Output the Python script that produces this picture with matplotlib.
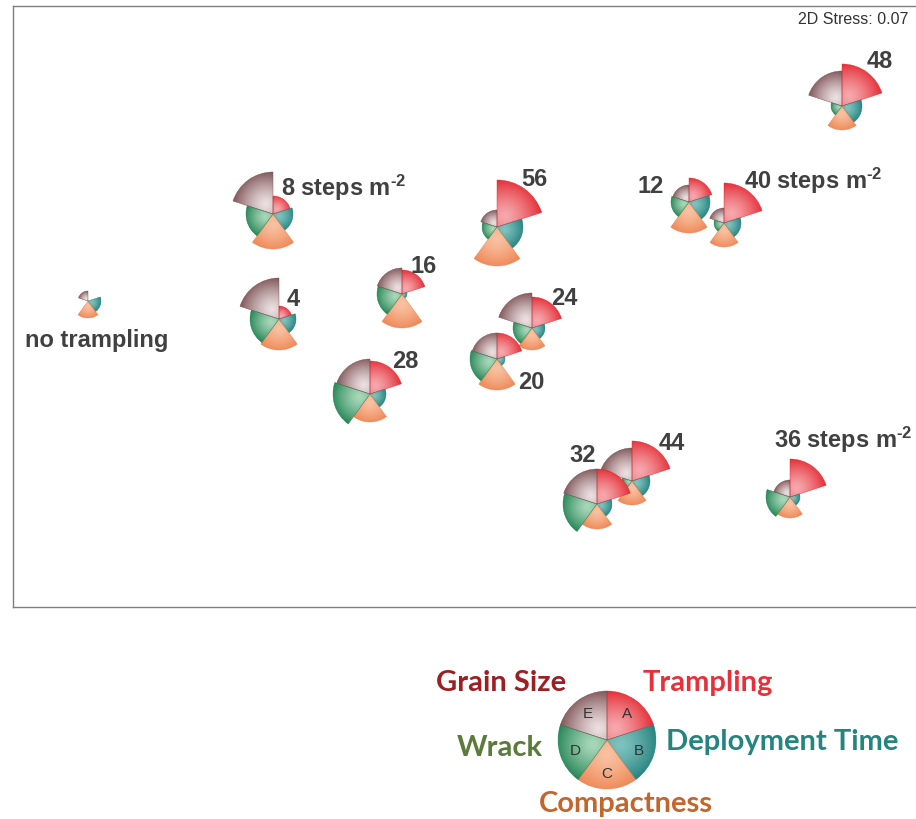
import numpy as np
import matplotlib
matplotlib.use("Agg")
import matplotlib.pyplot as plt
from matplotlib.patches import Wedge
from matplotlib.colors import to_rgb

plt.rcParams['mathtext.fontset'] = 'custom'
plt.rcParams['mathtext.rm'] = 'Liberation Sans:bold'
plt.rcParams['mathtext.bf'] = 'Liberation Sans:bold'
plt.rcParams['mathtext.it'] = 'Liberation Sans:bold'

# nMDS ordination: one glyph per trampling level
labels = ['no trampling', '4', '8 steps m$^{\u20102}$', '16', '28', '56', '24', '20',
          '12', '40 steps m$^{\u20102}$', '48', '44', '32', '36 steps m$^{\u20102}$']
mds1 = [0.75, 2.66, 2.60, 3.89, 3.57, 4.84, 5.19, 4.84, 6.76, 7.11, 8.29, 6.19, 5.84, 7.77]
mds2 = [3.06, 2.88, 3.93, 3.13, 2.13, 3.80, 2.79, 2.48, 4.05, 3.84, 5.01, 1.26, 1.03, 1.10]

# wedge sizes (relative, 1 = full radius) for variables A..E
trampling  = [0.00, 0.26, 0.36, 0.48, 0.66, 0.94, 0.62, 0.52, 0.48, 0.80, 0.84, 0.80, 0.70, 0.76]
deployment = [0.26, 0.34, 0.40, 0.10, 0.32, 0.52, 0.26, 0.16, 0.42, 0.34, 0.40, 0.36, 0.30, 0.20]
compact    = [0.34, 0.62, 0.70, 0.68, 0.56, 0.78, 0.44, 0.62, 0.62, 0.48, 0.48, 0.48, 0.50, 0.42]
wrack      = [0.00, 0.58, 0.54, 0.50, 0.74, 0.30, 0.38, 0.54, 0.36, 0.20, 0.22, 0.20, 0.68, 0.48]
grain      = [0.20, 0.82, 0.84, 0.52, 0.70, 0.34, 0.70, 0.52, 0.34, 0.30, 0.70, 0.66, 0.70, 0.34]

var_names = ['Trampling', 'Deployment Time', 'Compactness', 'Wrack', 'Grain Size']
var_letters = ['A', 'B', 'C', 'D', 'E']
stress = 0.07

# label offsets in pixels (dx right, dy down) and alignment
label_off = [(9, 45, 'center'), (14, -14, 'center'), (8, -19, 'left'), (22, -22, 'center'),
             (35, -27, 'center'), (37, -42, 'center'), (32, -24, 'center'), (34, 29, 'center'),
             (-38, -10, 'center'), (20, -35, 'left'), (38, -39, 'center'), (40, -32, 'center'),
             (-14, -43, 'center'), (-16, -50, 'left')]

# wedge styling
angles = [(18, 90), (-54, 18), (-126, -54), (162, 234), (90, 162)]
rim = ['#e3222b', '#1b7b77', '#ee804c', '#167c4a', '#76494c']
light = ['#f6a9ae', '#7fc3bf', '#f8c2a2', '#a9d8ba', '#ece0e1']
text_cols = ['#e8303a', '#24847f', '#c4652b', '#5b7b3a', '#9c1f24']
R = 0.5  # full radius in plot units


def gradient_wedge(ax, cx, cy, r, t1, t2, base, hl, z):
    if r <= 0:
        return
    w = Wedge((cx, cy), r, t1, t2, facecolor='none', edgecolor=base, lw=0.3, zorder=z + 0.1)
    ax.add_patch(w)
    n = 60
    xs = np.linspace(cx - r, cx + r, n)
    ys = np.linspace(cy - r, cy + r, n)
    X, Y = np.meshgrid(xs, ys)
    mid = np.deg2rad((t1 + t2) / 2)
    hx = cx + 0.3 * r * np.cos(mid)
    hy = cy + 0.3 * r * np.sin(mid)
    t = np.clip(np.hypot(X - hx, Y - hy) / (0.85 * r), 0, 1) ** 1.3
    b = np.array(to_rgb(base))
    h = np.array(to_rgb(hl))
    img = h[None, None, :] * (1 - t[..., None]) + b[None, None, :] * t[..., None]
    im = ax.imshow(img, extent=(cx - r, cx + r, cy - r, cy + r), origin='lower',
                   interpolation='bilinear', zorder=z)
    im.set_clip_path(w)


fig = plt.figure(figsize=(9.16, 8.2), dpi=100)

# main ordination panel
ax = fig.add_axes([13 / 916, 212 / 820, 927 / 916, 601 / 820])
values = list(zip(trampling, deployment, compact, wrack, grain))
for i, (x, y) in enumerate(zip(mds1, mds2)):
    for k in range(5):
        gradient_wedge(ax, x, y, values[i][k] * R, angles[k][0], angles[k][1],
                       rim[k], light[k], 2 + i)
    dx, dy, ha = label_off[i]
    ax.annotate(labels[i], (x, y), xytext=(dx * 0.72, -dy * 0.72), textcoords='offset points',
                ha=ha, va='baseline', fontsize=17, fontweight='bold',
                family='Liberation Sans', color='#404040', zorder=40)

ax.set_xlim(0, 9.27)
ax.set_ylim(0, 6.01)
ax.set_aspect('auto')
ax.set_xticks([])
ax.set_yticks([])
for s in ['left', 'top', 'bottom']:
    ax.spines[s].set_color('#7f7f7f')
    ax.spines[s].set_linewidth(1.0)
ax.spines['right'].set_visible(False)
ax.text(8.95, 5.89, f'2D Stress: {stress}', ha='right', va='center', fontsize=11.5,
        family='Liberation Sans', color='#333333')

# key glyph
lg = fig.add_axes([0, 0, 1, 210 / 820])
lg.set_xlim(0, 916)
lg.set_ylim(0, 210)
lg.axis('off')
kx, ky, kr = 607, 79, 49
for k in range(5):
    gradient_wedge(lg, kx, ky, kr, angles[k][0], angles[k][1], rim[k], light[k], 2)
    mid = np.deg2rad(sum(angles[k]) / 2)
    lg.text(kx + 0.68 * kr * np.cos(mid), ky + 0.68 * kr * np.sin(mid), var_letters[k],
            ha='center', va='center', fontsize=11, family='Liberation Sans',
            color='#333333', zorder=10)
lg.set_xlim(0, 916)
lg.set_ylim(0, 210)
lg.set_aspect('auto')

key_pos = [(708, 129, 'center'), (782, 70, 'center'), (626, 8, 'center'),
           (500, 64, 'center'), (501, 129, 'center')]
for k in range(5):
    px, py, ha = key_pos[k]
    lg.text(px, py, var_names[k], ha=ha, va='baseline', fontsize=21, fontweight='bold',
            family='Lato', color=text_cols[k])

fig.savefig('out.png', dpi=100)
